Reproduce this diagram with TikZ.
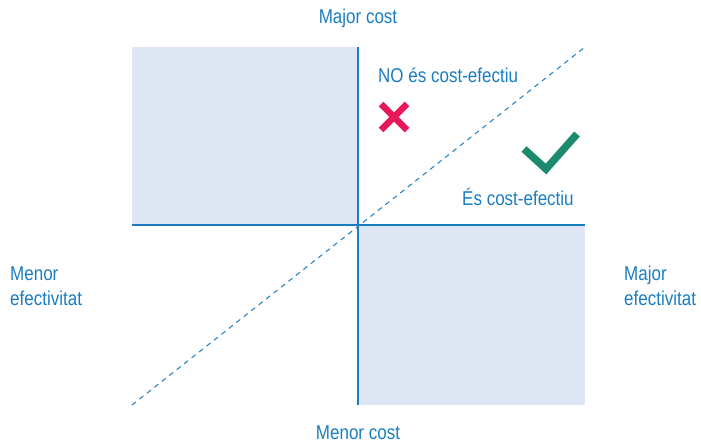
\documentclass[tikz,border=0pt]{standalone}
\usepackage{fontspec}
\setmainfont[FakeStretch=0.85]{Liberation Sans}
\usetikzlibrary{calc}

\definecolor{txtblue}{HTML}{1A7DC2}
\definecolor{quadfill}{HTML}{E0E7F4}
\definecolor{crossred}{HTML}{E8195A}
\definecolor{okgreen}{HTML}{1B8A6E}

\tikzset{
  lbl/.style={text=txtblue, font=\fontsize{20}{25}\selectfont, inner sep=0pt},
  axis/.style={draw=txtblue, line width=1.2pt},
}

\begin{document}
\begin{tikzpicture}[x=1pt,y=-1pt]
\useasboundingbox (0,0) rectangle (701,445);

\coordinate (tl) at (132,47);
\coordinate (o) at (358,225);
\coordinate (br) at (585,405);

\fill[quadfill] (tl) rectangle (o);
\fill[quadfill] (o) rectangle (br);

\draw[axis] (358,47)--(358,405);
\draw[axis] (132,225)--(585,225);
\draw[txtblue, line width=1pt, dash pattern=on 5pt off 4.5pt] (132,405)--(585,47);

\node[lbl] (majcost) at (358,18) {Major cost};
\node[lbl] (mencost) at (358,433) {Menor cost};
\node[lbl, anchor = west, align=left] (menef) at (10,286) {Menor\\efectivitat};
\node[lbl, anchor = west, align=left] (majef) at (624,286) {Major\\efectivitat};
\node[lbl, anchor = west] (noce) at (378,75) {NO és cost-efectiu};
\node[lbl, anchor = west] (sice) at (462,197) {És cost-efectiu};

\draw[crossred, line width=6.5pt] (381,104)--(407,130);
\draw[crossred, line width=6.5pt] (381,130)--(407,104);
\draw[okgreen, line width=7.5pt] (524,149)--(546,169)--(577,134);
\end{tikzpicture}
\end{document}
